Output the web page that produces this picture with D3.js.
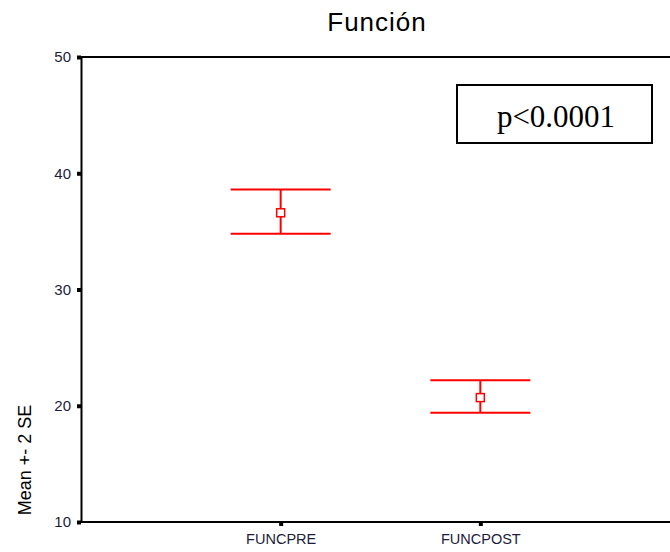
<!DOCTYPE html>
<html>
<head>
<meta charset="utf-8">
<script src="https://cdn.jsdelivr.net/npm/d3@7"></script>
<style>
  body { margin: 0; background: #fff; }
  svg { display: block; }
  .axis text { font-family: "Liberation Sans", Arial, sans-serif; }
</style>
</head>
<body>
<svg width="670" height="552"></svg>
<script>
// data
var categories = ["FUNCPRE", "FUNCPOST"];
var means = [36.6, 20.7];
var upper = [38.6, 22.2];
var lower = [34.8, 19.4];
var yTicks = [10, 20, 30, 40, 50];

var margin = { top: 57, left: 81, bottom: 30, right: -10 };
var svg = d3.select('svg');
var svgWidth = 670, svgHeight = 552;

// scales
var xScale = d3.scalePoint()
    .domain(categories)
    .range([margin.left, svgWidth - margin.right])
    .padding(1);

var yScale = d3.scaleLinear()
    .domain([10, 50])
    .range([svgHeight - margin.bottom, margin.top]);

// frame top line
svg.append('line')
    .attr('x1', margin.left).attr('x2', svgWidth)
    .attr('y1', yScale(50)).attr('y2', yScale(50))
    .attr('stroke', '#000').attr('stroke-width', 2);

// y axis
var yAxis = d3.axisLeft(yScale).tickValues(yTicks).tickSize(0).tickPadding(10);
var gy = svg.append('g')
    .attr('class', 'y axis')
    .attr('transform', 'translate(' + margin.left + ',0)')
    .call(yAxis);
gy.select('.domain').attr('stroke', '#000').attr('stroke-width', 2);
gy.selectAll('.tick text')
    .attr('font-size', 15)
    .attr('fill', '#1c1c3c');
gy.selectAll('.tick').append('rect')
    .attr('x', -4).attr('y', -2).attr('width', 4).attr('height', 4)
    .attr('fill', '#000');

// x axis
var xAxis = d3.axisBottom(xScale).tickSize(0).tickPadding(12);
var gx = svg.append('g')
    .attr('class', 'x axis')
    .attr('transform', 'translate(0,' + yScale(10) + ')')
    .call(xAxis);
gx.select('.domain').remove();
gx.append('line')
    .attr('x1', margin.left).attr('x2', svgWidth)
    .attr('stroke', '#000').attr('stroke-width', 2);
gx.selectAll('.tick text')
    .attr('font-size', 14.5)
    .attr('fill', '#1c1c3c');
gx.selectAll('.tick').append('rect')
    .attr('x', -2).attr('y', 0).attr('width', 4).attr('height', 4)
    .attr('fill', '#000');

// error bars
var capHalf = 50;
var bars = svg.selectAll('.ebar')
    .data(categories)
    .enter().append('g')
    .attr('class', 'ebar')
    .attr('stroke', '#f00')
    .attr('stroke-width', 2)
    .attr('fill', 'none');

bars.append('line')
    .attr('x1', function(d) { return xScale(d); })
    .attr('x2', function(d) { return xScale(d); })
    .attr('y1', function(d, i) { return yScale(upper[i]); })
    .attr('y2', function(d, i) { return yScale(lower[i]); });
bars.append('line')
    .attr('x1', function(d) { return xScale(d) - capHalf; })
    .attr('x2', function(d) { return xScale(d) + capHalf; })
    .attr('y1', function(d, i) { return yScale(upper[i]); })
    .attr('y2', function(d, i) { return yScale(upper[i]); });
bars.append('line')
    .attr('x1', function(d) { return xScale(d) - capHalf; })
    .attr('x2', function(d) { return xScale(d) + capHalf; })
    .attr('y1', function(d, i) { return yScale(lower[i]); })
    .attr('y2', function(d, i) { return yScale(lower[i]); });
bars.append('rect')
    .attr('x', function(d) { return xScale(d) - 4; })
    .attr('y', function(d, i) { return yScale(means[i]) - 4; })
    .attr('width', 8).attr('height', 8)
    .attr('fill', '#fff')
    .attr('stroke-width', 1.5);

// title
svg.append('text')
    .attr('x', 377).attr('y', 31)
    .attr('text-anchor', 'middle')
    .attr('font-family', '"Liberation Sans", Arial, sans-serif')
    .attr('font-size', 26)
    .attr('letter-spacing', 1)
    .text('Función');

// y label
svg.append('text')
    .attr('transform', 'translate(31,460) rotate(-90)')
    .attr('text-anchor', 'middle')
    .attr('font-family', '"Liberation Sans", Arial, sans-serif')
    .attr('font-size', 18)
    .text('Mean +- 2 SE');

// p value box
svg.append('rect')
    .attr('x', 457).attr('y', 85).attr('width', 195).attr('height', 58)
    .attr('fill', '#fff').attr('stroke', '#000').attr('stroke-width', 2);
svg.append('text')
    .attr('x', 556).attr('y', 127)
    .attr('text-anchor', 'middle')
    .attr('font-family', '"Liberation Serif", "Times New Roman", serif')
    .attr('font-size', 31)
    .text('p<0.0001');
</script>
</body>
</html>
